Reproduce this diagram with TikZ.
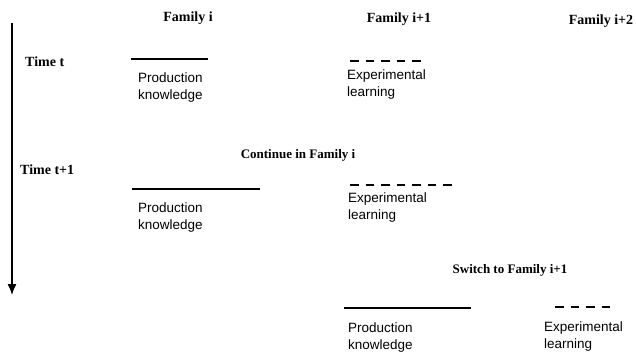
\documentclass[tikz,border=0pt]{standalone}
\usepackage{fontspec}
\setmainfont{Liberation Serif}
\setsansfont{Liberation Sans}
\usetikzlibrary{arrows.meta,positioning}

\begin{document}
\begin{tikzpicture}[x=1pt,y=-1pt,>={Latex[length=11pt,width=9pt]},
  head/.style={font=\bfseries\fontsize{14}{16}\selectfont,inner sep=0pt},
  note/.style={font=\bfseries\fontsize{13}{15}\selectfont,inner sep=0pt},
  lbl/.style={font=\sffamily\fontsize{13.5}{17}\selectfont,align=left,anchor=north west,inner sep=0pt},
  prod/.style={line width=2pt},
  expt/.style={line width=2pt,dash pattern=on 8.5pt off 7pt}]
          \useasboundingbox (0,0) rectangle (636,353);
          % time axis
          \coordinate (tstart) at (12,23);
          \coordinate (tend) at (12,295);
          \draw [->,line width=1.3pt] (tstart) -- (tend);
          % headers
          \node [head] (famA) at (188,18) {Family i};
          \node [head] (famB) at (399,19) {Family i+1};
          \node [head] (famC) at (601,21) {Family i+2};
          \node [head,anchor=west] (timeA) at (25,62) {Time t};
          \node [head,anchor=west] (timeB) at (20,170) {Time t+1};
          \node [note] (cont) at (298,155) {Continue in Family i};
          \node [note] (switch) at (510,270) {Switch to Family i+1};
          % time t
          \coordinate (prodA-w) at (131,59);
          \coordinate (prodA-e) at (208,59);
          \draw [prod] (prodA-w) -- (prodA-e);
          \node [lbl] (prodA) at (138,73) {Production\\knowledge};
          \coordinate (expA-w) at (350,61);
          \coordinate (expA-e) at (420.5,61);
          \draw [expt] (expA-w) -- (expA-e);
          \node [lbl] (expA) at (347,70) {Experimental\\learning};
          % time t+1, continue
          \coordinate (prodB-w) at (132,189);
          \coordinate (prodB-e) at (260,189);
          \draw [prod] (prodB-w) -- (prodB-e);
          \node [lbl] (prodB) at (138,203) {Production\\knowledge};
          \coordinate (expB-w) at (350,185);
          \coordinate (expB-e) at (451.5,185);
          \draw [expt] (expB-w) -- (expB-e);
          \node [lbl] (expB) at (348,193) {Experimental\\learning};
          % time t+1, switch
          \coordinate (prodC-w) at (344,308);
          \coordinate (prodC-e) at (471,308);
          \draw [prod] (prodC-w) -- (prodC-e);
          \node [lbl] (prodC) at (348,323) {Production\\knowledge};
          \coordinate (expC-w) at (555,307);
          \coordinate (expC-e) at (610,307);
          \draw [expt] (expC-w) -- (expC-e);
          \node [lbl] (expC) at (544,322) {Experimental\\learning};
\end{tikzpicture}
\end{document}
